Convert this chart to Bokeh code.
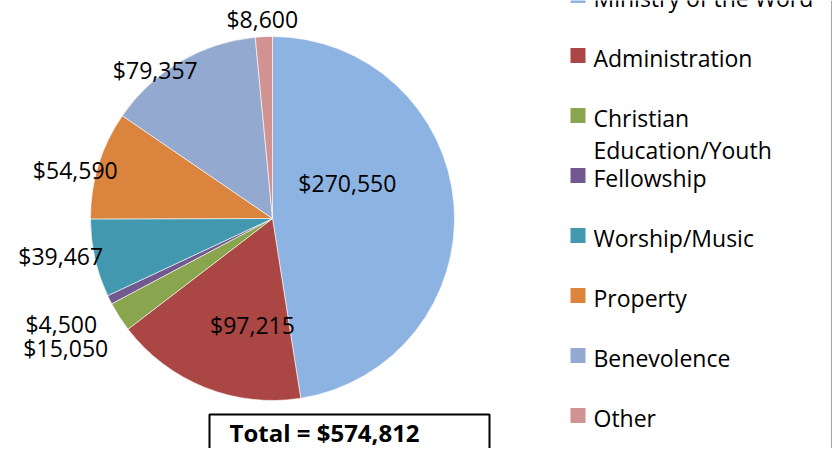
import math
from bokeh.plotting import figure
from bokeh.models import Range1d, Span, ColumnDataSource
from bokeh.core.properties import value
from bokeh.embed import file_html
from bokeh.resources import INLINE

# ---- data ----
categories = ["Ministry of the Word", "Administration", "Christian Education/Youth",
              "Fellowship", "Worship/Music", "Property", "Benevolence", "Other"]
amounts = [270550, 97215, 15050, 4500, 39467, 54590, 79357, 8600]
total_reported = 574812
colors = ["#8DB3E2", "#AA4643", "#89A54E", "#71588F", "#4198AF", "#DB843D", "#93A9CF", "#D19392"]

# ---- layout (pixel geometry) ----
W, H = 832, 448
CX, CY, R = 272, 218, 182
# label placement: distance from centre (px) and angle tweak (deg) relative to slice mid-angle
label_dist = [83, 108, 244, 236, 215, 203, 189, 200]
label_tweak = [-21.1, -11.1, 0.6, 0.0, 2.7, -3.4, -7.8, -0.2]
FONT = value("Open Sans")
FS = "23px"

p = figure(width=W, height=H, x_range=Range1d(0, W), y_range=Range1d(-H, 0),
           output_backend="svg", toolbar_location=None, min_border=0,
           x_axis_type=None, y_axis_type=None)
p.grid.visible = False
p.outline_line_color = None
p.background_fill_color = "white"
p.border_fill_color = "white"

s = sum(amounts)
starts, ends, lx, ly, ltxt = [], [], [], [], []
cum = 0.0
for i, v in enumerate(amounts):
    t0 = cum / s * 360.0
    cum += v
    t1 = cum / s * 360.0
    starts.append(math.radians(90 - t1))
    ends.append(math.radians(90 - t0))
    a = math.radians((t0 + t1) / 2 + label_tweak[i])
    d = label_dist[i]
    lx.append(CX + d * math.sin(a))
    ly.append(-CY + d * math.cos(a))
    ltxt.append("${:,}".format(v))

src = ColumnDataSource(dict(start=starts, end=ends, color=colors))
p.wedge(x=CX, y=-CY, radius=R, start_angle="start", end_angle="end",
        fill_color="color", line_color="white", line_width=0.6, source=src)

p.text(x=lx, y=ly, text=ltxt, text_font=FONT, text_font_size=FS,
       text_align="center", text_baseline="middle", text_color="#000000")

# ---- legend ----
LEG_SQ_X, LEG_TX_X, LEG_Y0, LEG_DY, LINE_DY = 577.5, 593, -5, 60, 32
sq_y, tx_x, tx_y, tx = [], [], [], []
for i, c in enumerate(categories):
    yc = LEG_Y0 + i * LEG_DY
    sq_y.append(-yc)
    lines = c.split(" ", 1) if c.startswith("Christian") else [c]
    for j, ln in enumerate(lines):
        tx_x.append(LEG_TX_X)
        tx_y.append(-(yc + 2 + j * LINE_DY))
        tx.append(ln)
p.scatter(x=[LEG_SQ_X] * len(categories), y=sq_y, marker="square", size=15,
          fill_color=colors, line_color=None)
p.text(x=tx_x, y=tx_y, text=tx, text_font=FONT, text_font_size=FS,
       text_align="left", text_baseline="middle", text_color="#000000")

# ---- total box ----
p.quad(left=209, right=489, top=-414, bottom=-500, fill_color=None,
       line_color="black", line_width=2)
p.text(x=[229], y=[-432], text=["Total = ${:,}".format(total_reported)], text_font=FONT,
       text_font_size="24px", text_font_style="bold", text_align="left",
       text_baseline="middle", text_color="#000000")

p.add_layout(Span(location=W - 1, dimension="height", line_color="#A6A6A6", line_width=1))

open("out.html", "w").write(file_html(p, INLINE))
